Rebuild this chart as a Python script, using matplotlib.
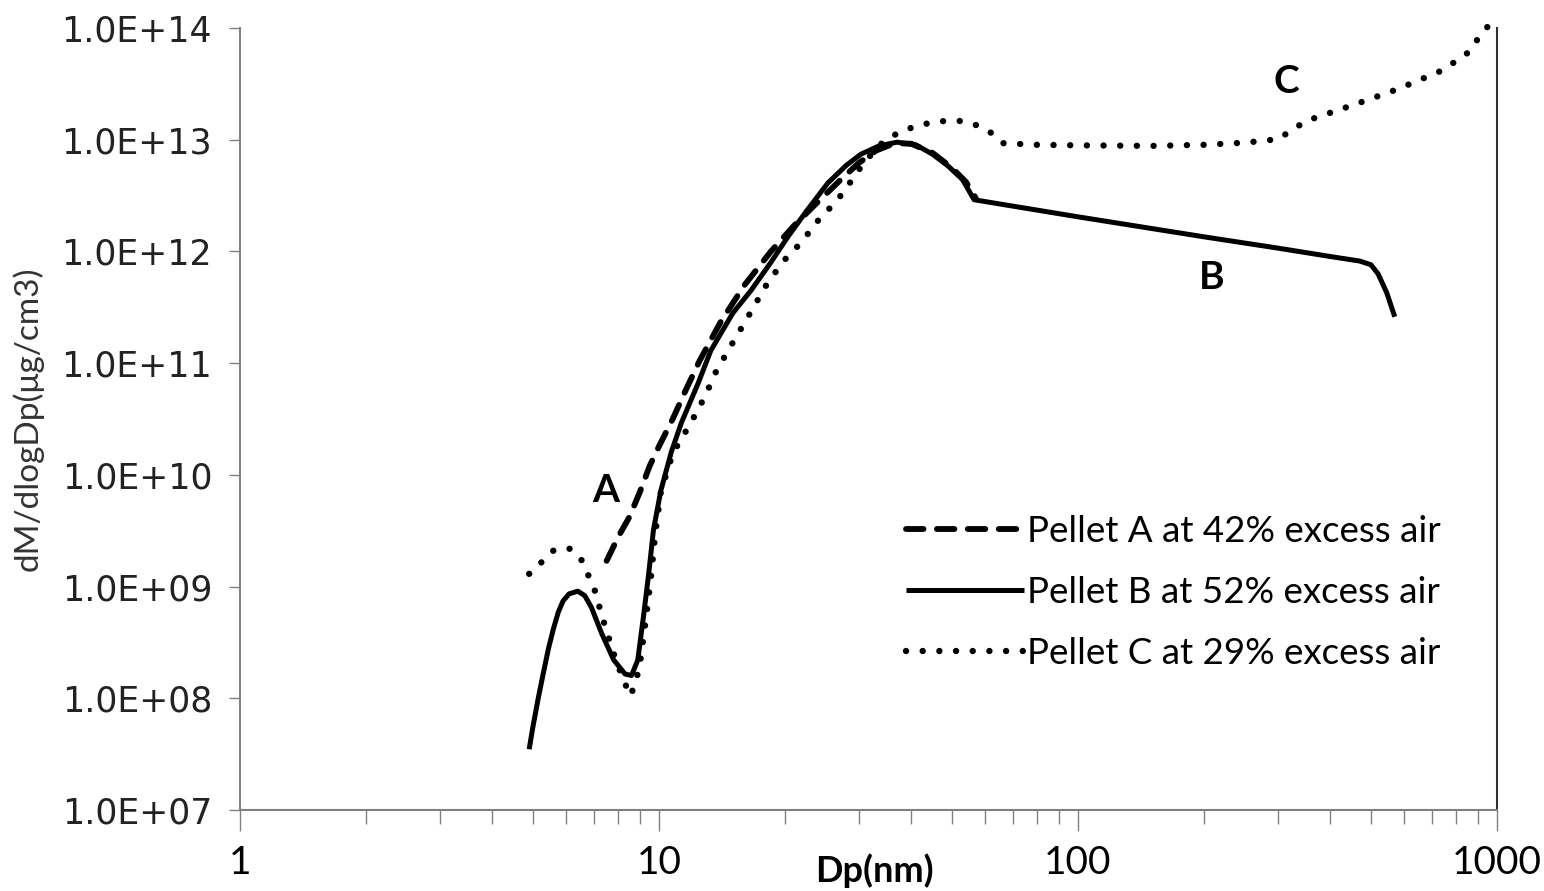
import matplotlib
matplotlib.use("Agg")
import matplotlib.pyplot as plt
from matplotlib.ticker import LogLocator, FixedLocator, FixedFormatter, NullLocator

plt.rcParams["font.family"] = ["Lato", "DejaVu Sans"]

# particle diameter (nm) and dM/dlogDp
dp_a = [7.5, 8.0, 8.5, 9.0, 9.5, 10.0, 10.8, 11.5, 12.5, 14.0, 16.0, 18.5, 21.0,
        24.0, 27.0, 30.0, 33.0, 36.5, 40.0, 45.0, 50.0, 54.0, 57.0]
mass_a = [1.7e9, 2.8e9, 4.2e9, 7.0e9, 1.2e10, 1.8e10, 3.2e10, 5.4e10, 1.05e11,
          2.3e11, 5.0e11, 1.0e12, 1.7e12, 2.8e12, 4.3e12, 6.2e12, 8.0e12,
          9.3e12, 9.2e12, 7.6e12, 5.6e12, 4.2e12, 3.0e12]

dp_b = [4.9, 5.0, 5.15, 5.3, 5.45, 5.6, 5.75, 5.9, 6.1, 6.4, 6.65, 6.9, 7.3,
        7.8, 8.3, 8.6, 8.9, 9.2, 9.45, 9.7, 10.1, 10.7, 11.3, 12.4, 13.3, 15.0,
        16.6, 18.5, 20.3, 22.5, 25.3, 28.0, 30.3, 33.5, 37.0, 41.0, 45.0, 49.0,
        53.0, 56.5, 100, 200, 300, 400, 470, 500, 520, 545, 570]
mass_b = [3.5e7, 5.5e7, 1.0e8, 1.7e8, 2.8e8, 4.2e8, 5.9e8, 7.4e8, 8.6e8,
          9.1e8, 8.3e8, 6.5e8, 3.8e8, 2.2e8, 1.65e8, 1.6e8, 2.2e8, 5.7e8,
          1.3e9, 3.2e9, 7.2e9, 1.6e10, 2.9e10, 6.6e10, 1.3e11, 2.8e11, 4.5e11,
          8.0e11, 1.35e12, 2.3e12, 4.1e12, 5.9e12, 7.4e12, 8.8e12, 9.5e12,
          9.0e12, 7.4e12, 5.8e12, 4.4e12, 2.9e12, 2.04e12, 1.35e12, 1.07e12,
          9.0e11, 8.2e11, 7.6e11, 6.3e11, 4.3e11, 2.6e11]

dp_c = [4.9, 5.2, 5.6, 6.1, 6.5, 7.0, 7.35, 7.8, 8.2, 8.55, 8.8, 9.0, 9.3, 9.55,
        9.8, 10.1, 10.4, 10.8, 11.9, 12.9, 13.7, 14.8, 16.5, 18.2, 20.0, 21.8,
        24.0, 26.7, 28.8, 30.9, 34.3, 37.2, 40.5, 44.1, 48.0, 52.6, 57.2, 62.1,
        66.4, 80, 100, 150, 200, 250, 300, 324, 350, 453, 580, 743, 857, 906, 962]
mass_c = [1.3e9, 1.6e9, 2.1e9, 2.2e9, 1.8e9, 9.7e8, 5.1e8, 2.5e8, 1.5e8, 1.05e8,
          1.4e8, 2.0e8, 5.0e8, 1.14e9, 3.0e9, 7.0e9, 1.0e10, 1.57e10, 2.9e10,
          5.1e10, 8.5e10, 1.4e11, 2.8e11, 5.3e11, 8.5e11, 1.19e12, 1.9e12,
          2.9e12, 4.3e12, 6.3e12, 9.6e12, 1.15e13, 1.3e13, 1.41e13, 1.47e13,
          1.47e13, 1.35e13, 1.15e13, 9.3e12, 9.0e12, 8.9e12, 8.8e12, 9.0e12,
          9.4e12, 1.01e13, 1.22e13, 1.47e13, 2.04e13, 2.84e13, 4.2e13, 6.1e13,
          8.3e13, 1.09e14]

labels = ["Pellet A at 42% excess air", "Pellet B at 52% excess air",
          "Pellet C at 29% excess air"]

y_ticks = [1e7, 1e8, 1e9, 1e10, 1e11, 1e12, 1e13, 1e14]
y_ticklabels = ["1.0E+07", "1.0E+08", "1.0E+09", "1.0E+10", "1.0E+11",
                "1.0E+12", "1.0E+13", "1.0E+14"]
x_ticks = [1, 10, 100, 1000]
x_ticklabels = ["1", "10", "100", "1000"]

fig = plt.figure(figsize=(15.44, 8.91), dpi=100)
ax = fig.add_axes([0.1554, 0.0909, 0.8142, 0.8777])

ax.plot(dp_a, mass_a, color="black", lw=4.2, linestyle=(0, (3.0, 2.3)),
        dash_capstyle="round", label=labels[0], clip_on=False)
ax.plot(dp_b, mass_b, color="black", lw=3.6, linestyle="-",
        solid_capstyle="butt", label=labels[1], clip_on=False)
ax.plot(dp_c, mass_c, color="black", lw=4.6, linestyle=(0, (0.01, 2.6)),
        dash_capstyle="round", label=labels[2], clip_on=False)

ax.set_xscale("log")
ax.set_yscale("log")
ax.set_xlim(1, 1000)
ax.set_ylim(1e7, 1e14)

ax.yaxis.set_major_locator(FixedLocator(y_ticks))
ax.yaxis.set_major_formatter(FixedFormatter(y_ticklabels))
ax.yaxis.set_minor_locator(NullLocator())
ax.xaxis.set_major_locator(FixedLocator(x_ticks))
ax.xaxis.set_major_formatter(FixedFormatter(x_ticklabels))
ax.xaxis.set_minor_locator(LogLocator(base=10, subs=range(2, 10)))

for lab in ax.get_yticklabels():
    lab.set_fontfamily("DejaVu Sans")
ax.tick_params(axis="y", which="major", length=8, width=1, color="#808080",
               labelsize=25, pad=12, labelcolor="#222222")
ax.tick_params(axis="x", which="major", length=15, width=1, color="#808080",
               labelsize=28, pad=10)
ax.tick_params(axis="x", which="minor", length=10, width=1, color="#808080")

ax.spines["top"].set_visible(False)
for side in ["left", "bottom"]:
    ax.spines[side].set_color("#808080")
    ax.spines[side].set_linewidth(1.5)
ax.spines["right"].set_color("#303030")
ax.spines["right"].set_linewidth(1.5)

ax.set_ylabel("dM/dlogDp(μg/cm3)", fontsize=24, color="#333333")
ax.yaxis.set_label_coords(-0.156, 0.5)
ax.set_xlabel("Dp(nm)", fontsize=26, fontweight="bold", labelpad=0)
ax.xaxis.set_label_coords(0.505, -0.055)

ax.text(7.46, 7.3e9, "A", fontsize=28, fontweight="bold", ha="center", va="center")
ax.text(208, 5.9e11, "B", fontsize=28, fontweight="bold", ha="center", va="center")
ax.text(315, 3.3e13, "C", fontsize=28, fontweight="bold", ha="center", va="center")

leg = ax.legend(loc="lower left", bbox_to_anchor=(0.518, 0.16), frameon=False,
                fontsize=26.5, handlelength=3.2, handletextpad=0.1,
                labelspacing=0.76, borderaxespad=0)

fig.savefig("out.png", dpi=100)
